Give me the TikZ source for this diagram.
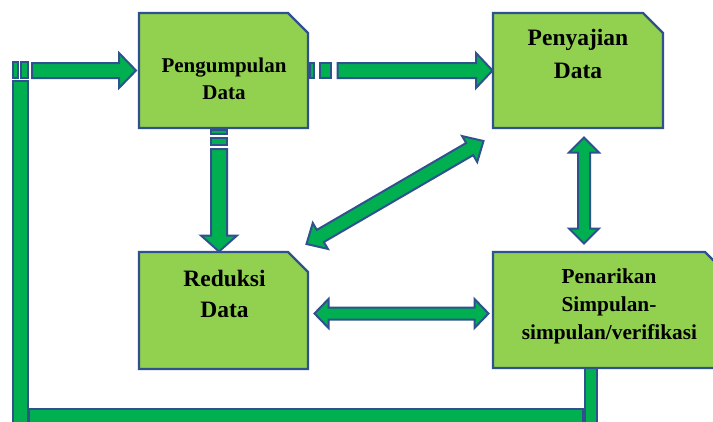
\documentclass[tikz,border=0pt]{standalone}
\usepackage{fontspec}
\setmainfont{Liberation Serif}
\usetikzlibrary{calc}

\definecolor{boxgreen}{HTML}{92D050}
\definecolor{arrowgreen}{HTML}{00B050}
\definecolor{edgeblue}{HTML}{2F528F}

\tikzset{
  flow/.style={fill=arrowgreen, draw=edgeblue, line width=2pt, line join=miter},
  boxshape/.style={fill=boxgreen, draw=edgeblue, line width=2.4pt, line join=miter},
  boxnode/.style={inner sep=0pt, outer sep=0pt},
  txt/.style={anchor=base, inner sep=0pt, font=\bfseries\fontsize{#1}{#1}\selectfont},
}

% box with its top right corner cut off
\newcommand\snipbox[1]{%
  \draw[boxshape] (#1.south west) -- (#1.north west) -- ([xshift=-20pt]#1.north east)
    -- ([yshift=-20pt]#1.north east) -- (#1.south east) -- cycle;}

% block arrow: tail #1, tip #2, shaft half width #3, head half width #4, head length #5
\newcommand\singlearrow[5]{%
  \coordinate (hb) at ($(#2)!#5!(#1)$);
  \draw[flow] ($(#1)!#3!90:(#2)$) -- ($(hb)!#3!-90:(#1)$) -- ($(hb)!#4!-90:(#1)$)
    -- (#2) -- ($(hb)!#4!90:(#1)$) -- ($(hb)!#3!90:(#1)$) -- ($(#1)!#3!-90:(#2)$) -- cycle;}

% block arrow with a head at both ends
\newcommand\doublearrow[5]{%
  \coordinate (ha) at ($(#1)!#5!(#2)$);
  \coordinate (hb) at ($(#2)!#5!(#1)$);
  \draw[flow] (#1) -- ($(ha)!#4!90:(#2)$) -- ($(ha)!#3!90:(#2)$) -- ($(hb)!#3!-90:(#1)$)
    -- ($(hb)!#4!-90:(#1)$) -- (#2) -- ($(hb)!#4!90:(#1)$) -- ($(hb)!#3!90:(#1)$)
    -- ($(ha)!#3!-90:(#2)$) -- ($(ha)!#4!-90:(#2)$) -- cycle;}

\begin{document}
\begin{tikzpicture}[x=1pt, y=-1pt]
\useasboundingbox (0,0) rectangle (713,421);
\fill[white] (0,0) rectangle (713,421);
\clip (0,0) rectangle (713,421);

% box frames (placed first so arrows can refer to them)
\node[boxnode, minimum width=169pt, minimum height=115pt] (b1) at (223.5,70.5) {};
\node[boxnode, minimum width=170pt, minimum height=115pt] (b2) at (578,70.5) {};
\node[boxnode, minimum width=169pt, minimum height=117pt] (b3) at (223.5,310.5) {};
\node[boxnode, minimum width=232pt, minimum height=116pt] (b4) at (609,310) {};

% arrow end points
\coordinate (aA-s) at (32,70.5);
\coordinate (aA-t) at ([xshift=-3pt]b1.west);
\coordinate (aB-s) at (337.5,70.5);
\coordinate (aB-t) at ([xshift=-0.5pt]b2.west);
\coordinate (aC-s) at (219,149);
\coordinate (aC-t) at (219,251.5);
\coordinate (aD-s) at (306.5,244);
\coordinate (aD-t) at (483.5,141);
\coordinate (aE-s) at (584,137.5);
\coordinate (aE-t) at (584,243.5);
\coordinate (aF-s) at (314.5,313.5);
\coordinate (aF-t) at (488.5,313.5);

% feedback loop from the conclusion box back to data collection
\draw[flow] (584.5,360) rectangle (597.3,440);
\draw[flow] (29,409.3) rectangle (583,440);
\draw[flow] (13.3,80.5) rectangle (28.3,440);
\draw[flow] (13.3,62) rectangle (18.3,77.5);
\draw[flow] (21,62) rectangle (28.3,77.5);
\singlearrow{aA-s}{aA-t}{7.5pt}{17.5pt}{17pt}

% collection -> display
\draw[flow] (310,63) rectangle (313.5,78);
\draw[flow] (320,63) rectangle (330.5,78);
\singlearrow{aB-s}{aB-t}{7.5pt}{17.5pt}{16.5pt}

% collection -> reduction
\draw[flow] (211,130) rectangle (227,134);
\draw[flow] (211,138) rectangle (227,144.5);
\singlearrow{aC-s}{aC-t}{8pt}{18pt}{16pt}

% two-way links
\doublearrow{aD-s}{aD-t}{7pt}{15pt}{16pt}
\doublearrow{aE-s}{aE-t}{6pt}{15pt}{15pt}
\doublearrow{aF-s}{aF-t}{6pt}{14.5pt}{14pt}

% boxes
\snipbox{b1}
\snipbox{b2}
\snipbox{b3}
\snipbox{b4}

% texts
\node[txt=21] (t1a) at (224,72) {Pengumpulan};
\node[txt=21] (t1b) at (224,99) {Data};
\node[txt=23.5] (t2a) at (578,45) {Penyajian};
\node[txt=23.5] (t2b) at (578,78) {Data};
\node[txt=23.5] (t3a) at (224.5,286) {Reduksi};
\node[txt=23.5] (t3b) at (224.5,317) {Data};
\node[txt=21.3] (t4a) at (609,283.3) {Penarikan};
\node[txt=21.3] (t4b) at (609,311.7) {Simpulan-};
\node[txt=21.3] (t4c) at (609.5,339.3) {simpulan/verifikasi};
\end{tikzpicture}
\end{document}
